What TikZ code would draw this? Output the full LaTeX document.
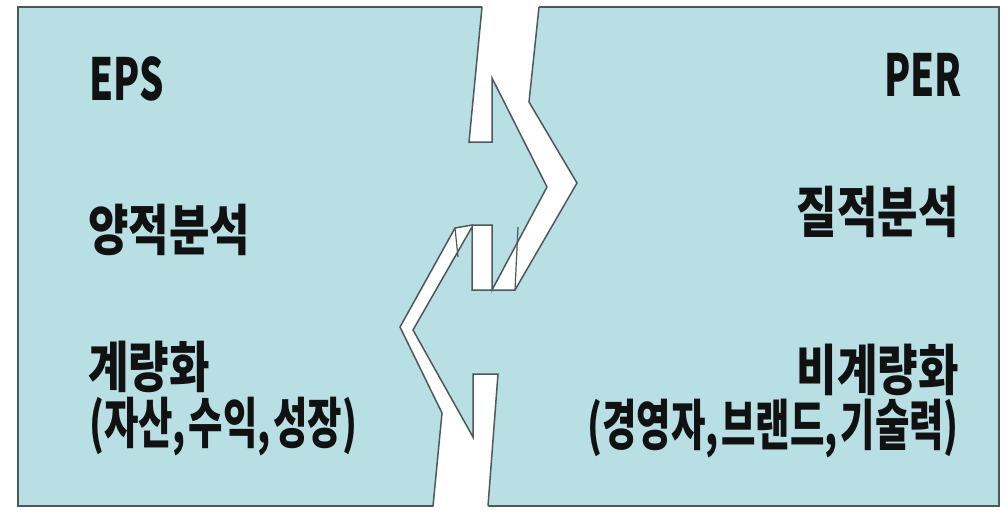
\documentclass[tikz,border=0pt]{standalone}
\usepackage{fontspec}
\newfontfamily\kr{Noto Sans CJK KR}[FakeStretch=0.8]
\newfontfamily\krnarrow{Noto Sans CJK KR}[FakeStretch=0.68]
\newfontfamily\krlatin{Noto Sans CJK KR}[FakeStretch=0.66]
\definecolor{panel}{RGB}{184,223,228}
\definecolor{edge}{RGB}{78,88,90}
\definecolor{ink}{RGB}{17,17,17}
\newcommand{\tsp}{\hspace{0.05em}}
\tikzset{
  lbl/.style={inner sep=0pt, text=ink, font=\kr\bfseries\fontsize{55}{66}\selectfont},
  sub/.style={inner sep=0pt, text=ink, font=\krnarrow\bfseries\fontsize{55}{66}\selectfont},
  head/.style={inner sep=0pt, text=ink, font=\krlatin\bfseries\fontsize{58}{70}\selectfont},
  crackline/.style={draw=edge, line width=1.5pt, line join=miter},
}
\begin{document}
\begin{tikzpicture}[x=1pt,y=-1pt]
\useasboundingbox (0,0) rectangle (1006,509);
% panels
\filldraw[fill=panel, draw=edge, line width=1.6pt] (18,7) rectangle (999,506);
% crack (white gap)
\fill[white] (482,-3) -- (482,7) -- (469,142) -- (492,142) -- (492,78) -- (547,187)
  -- (492,290) -- (492,225) -- (472,225) -- (455,228) -- (400,327) -- (442,413)
  -- (433,512) -- (488,512) -- (498,374) -- (473,374) -- (473,437) -- (413,330)
  -- (471,227) -- (472,290) -- (515,290) -- (577,183) -- (529,102) -- (539,7)
  -- (539,-3) -- cycle;
% left panel edge
\coordinate (l0) at (482,7);
\coordinate (l1) at (433,506);
\draw[crackline] (l0) -- (469,142) -- (492,142) -- (492,78) -- (547,187)
  -- (492,290) -- (492,225) -- (472,225) -- (455,228) -- (400,327) -- (442,413) -- (l1);
% right panel edge
\coordinate (r0) at (539,7);
\coordinate (r1) at (488,506);
\draw[crackline] (r0) -- (529,102) -- (577,183) -- (515,290) -- (472,290)
  -- (472,227) -- (413,330) -- (473,437) -- (473,374) -- (498,374) -- (r1);
% small stray strokes inside the crack
\coordinate (s0) at (518,227);
\coordinate (s1) at (515,290);
\draw[crackline, line width=1.2pt] (s0) -- (s1);
\coordinate (t0) at (455,228);
\coordinate (t1) at (458,257);
\draw[crackline, line width=1.2pt] (t0) -- (t1);
% texts
\node[head, anchor=base west] (eps) at (89,100) {EPS};
\node[lbl, anchor=base west] (yang) at (88,250) {양적분석};
\node[lbl, anchor=base west] (gye) at (88,387) {계량화};
\node[sub, anchor=base west] (jasan) at (89,443) {(자산,\tsp{}수익,\tsp{}성장)};
\node[head, anchor=base east] (per) at (962,96) {PER};
\node[lbl, anchor=base east] (jil) at (959,232) {질적분석};
\node[lbl, anchor=base east] (bigye) at (959,390) {비계량화};
\node[sub, anchor=base east] (gyeong) at (959,445) {(경영자,\tsp{}브랜드,\tsp{}기술력)};
\end{tikzpicture}
\end{document}
